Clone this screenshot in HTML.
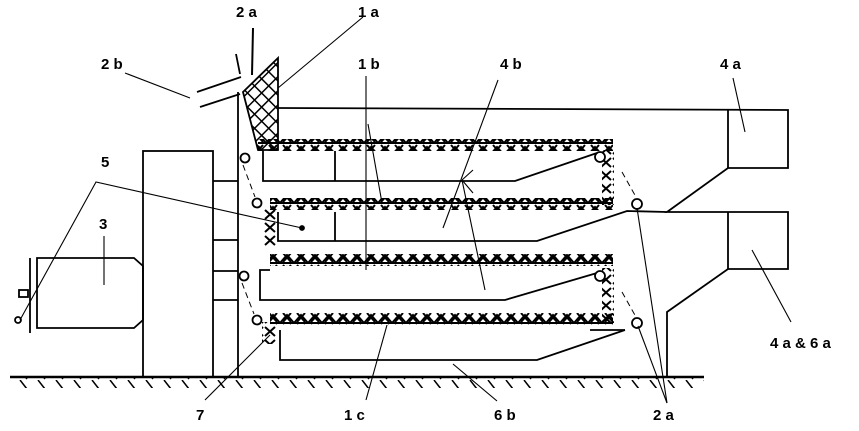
<!DOCTYPE html>
<html><head><style>html,body{margin:0;padding:0;background:#fff}svg{display:block}</style></head><body>
<svg width="859" height="431" viewBox="0 0 859 431" xmlns="http://www.w3.org/2000/svg">
<defs>
<pattern id="belt" width="14" height="12" patternUnits="userSpaceOnUse">
<path d="M0,11 L7,3 L14,11 M0,11 L14,11 M3,1 L11,10 M11,1 L3,10" stroke="#000" stroke-width="2" fill="none"/>
</pattern>
<pattern id="beltv" width="12" height="13" patternUnits="userSpaceOnUse">
<path d="M1,2 L11,11 M11,2 L1,11" stroke="#000" stroke-width="2" fill="none"/>
</pattern>
<pattern id="hatch" width="10" height="10" patternUnits="userSpaceOnUse" patternTransform="rotate(45)">
<rect width="10" height="10" fill="#fff"/>
<path d="M0,0 L10,0 M0,0 L0,10" stroke="#000" stroke-width="3"/>
</pattern>
<pattern id="ground" width="18" height="10" patternUnits="userSpaceOnUse">
<path d="M2,0 L9,9" stroke="#000" stroke-width="1.5"/>
</pattern>
</defs>
<g fill="none" stroke="#000" stroke-width="1.8">
<line x1="10" y1="377" x2="704" y2="377" stroke-width="2.5"/>
<rect x="12" y="378" width="692" height="10" fill="url(#ground)" stroke="none"/>
<rect x="143" y="151" width="70" height="226"/>
<line x1="238" y1="92" x2="238" y2="377"/>
<line x1="213" y1="181" x2="238" y2="181"/>
<line x1="213" y1="240" x2="238" y2="240"/>
<line x1="213" y1="271" x2="238" y2="271"/>
<line x1="213" y1="300" x2="238" y2="300"/>
<path d="M37,258 L134,258 L143,266 L143,320 L134,328 L37,328 Z"/>
<line x1="30" y1="258" x2="30" y2="333"/>
<rect x="19" y="290" width="9" height="7"/>
<circle cx="18" cy="320" r="3"/>
<path d="M243,92 L278,58 L278,150 L258,150 Z" fill="url(#hatch)"/>
<line x1="197" y1="92" x2="241" y2="77"/>
<line x1="200" y1="107" x2="240" y2="94"/>
<line x1="236" y1="54" x2="240" y2="74"/>
<path d="M278,108 L788,110 L788,168 L728,168 L667,212 L788,212 L788,269 L728,269 L667,312 L667,377"/>
<line x1="728" y1="110" x2="728" y2="168"/>
<line x1="728" y1="212" x2="728" y2="269"/>
<path d="M263,151 L263,181 L515,181 L597,153"/>
<line x1="335" y1="151" x2="335" y2="181"/>
<path d="M278,212 L278,241 L537,241 L627,211 L667,212"/>
<line x1="335" y1="212" x2="335" y2="241"/>
<path d="M270,270 L260,270 L260,300 L505,300 L597,273"/>
<path d="M280,330 L280,360 L537,360 L625,330"/>
<line x1="590" y1="330" x2="625" y2="330"/>
<rect x="258" y="139" width="355" height="12" fill="url(#belt)" stroke="none"/>
<rect x="270" y="198" width="343" height="12" fill="url(#belt)" stroke="none"/>
<rect x="270" y="254" width="343" height="12" fill="url(#belt)" stroke="none"/>
<rect x="270" y="313" width="343" height="12" fill="url(#belt)" stroke="none"/>
<rect x="602" y="150" width="12" height="55" fill="url(#beltv)" stroke="none"/>
<rect x="602" y="268" width="12" height="55" fill="url(#beltv)" stroke="none"/>
<rect x="264" y="208" width="12" height="40" fill="url(#beltv)" stroke="none"/>
<rect x="262" y="322" width="14" height="22" fill="url(#beltv)" stroke="none"/>
<g stroke-width="1.8" fill="#fff">
<circle cx="245" cy="158" r="4.5"/><circle cx="257" cy="203" r="4.5"/>
<circle cx="244" cy="276" r="4.5"/><circle cx="257" cy="320" r="4.5"/>
<circle cx="600" cy="157" r="5"/><circle cx="637" cy="204" r="5"/>
<circle cx="600" cy="276" r="5"/><circle cx="637" cy="323" r="5"/>
</g>
<g stroke-width="1" stroke-dasharray="6,4">
<line x1="243" y1="165" x2="255" y2="197"/>
<line x1="242" y1="283" x2="254" y2="314"/>
<line x1="622" y1="172" x2="636" y2="197"/>
<line x1="622" y1="292" x2="636" y2="317"/>
</g>
<g stroke-width="1.1">
<line x1="253" y1="28" x2="252" y2="75" stroke-width="2"/>
<line x1="363" y1="17" x2="278" y2="88"/>
<line x1="125" y1="73" x2="190" y2="98"/>
<line x1="366" y1="76" x2="366" y2="270"/>
<line x1="368" y1="124" x2="382" y2="203"/>
<line x1="498" y1="80" x2="443" y2="228"/>
<line x1="462" y1="180" x2="485" y2="290"/>
<line x1="462" y1="180" x2="473" y2="170"/>
<line x1="462" y1="180" x2="473" y2="193"/>
<line x1="733" y1="78" x2="745" y2="132"/>
<line x1="752" y1="250" x2="791" y2="322"/>
<path d="M302,228 L96,182 L20,320"/>
<line x1="104" y1="236" x2="104" y2="285"/>
<line x1="205" y1="400" x2="270" y2="335"/>
<line x1="366" y1="400" x2="387" y2="325"/>
<line x1="453" y1="364" x2="497" y2="401"/>
<line x1="667" y1="403" x2="637" y2="208"/>
<line x1="667" y1="403" x2="638" y2="326"/>
</g>
<circle cx="302" cy="228" r="2" fill="#000"/>
</g>
<g font-family="Liberation Sans, sans-serif" font-weight="bold" font-size="15" fill="#000">
<text x="236" y="17">2 a</text>
<text x="358" y="17">1 a</text>
<text x="101" y="69">2 b</text>
<text x="358" y="69">1 b</text>
<text x="500" y="69">4 b</text>
<text x="720" y="69">4 a</text>
<text x="101" y="167">5</text>
<text x="99" y="229">3</text>
<text x="770" y="348">4 a &amp; 6 a</text>
<text x="196" y="420">7</text>
<text x="344" y="420">1 c</text>
<text x="494" y="420">6 b</text>
<text x="653" y="420">2 a</text>
</g>
</svg>
</body></html>
